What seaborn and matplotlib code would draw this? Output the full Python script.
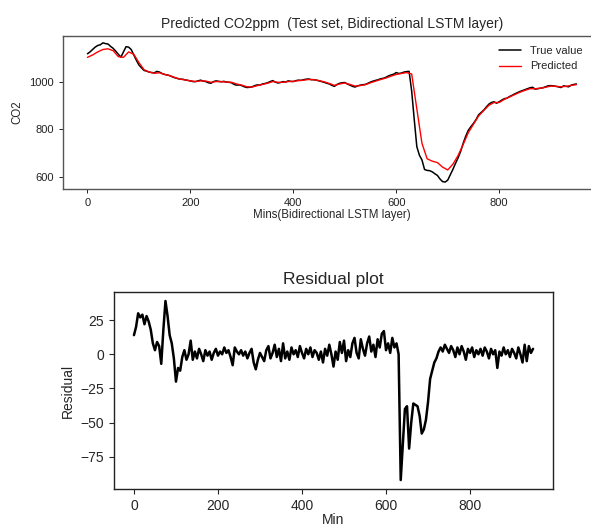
import numpy as np
import pandas as pd
import matplotlib
matplotlib.use("Agg")
import matplotlib.pyplot as plt
import seaborn as sns

# Minutes of the test set (5-minute and 10-minute readings)
minutes_5 = np.arange(0, 951, 5)
minutes_10 = np.arange(0, 951, 10)

# True CO2 (ppm), every 5 minutes
true_co2 = [
    1117, 1125, 1135, 1145, 1152, 1155, 1163, 1160, 1158, 1148,
    1140, 1128, 1115, 1103, 1125, 1147, 1145, 1135, 1112, 1090,
    1070, 1058, 1047, 1044, 1040, 1038, 1037, 1043, 1040, 1034,
    1030, 1028, 1025, 1020, 1016, 1013, 1010, 1010, 1007, 1005,
    1003, 1000, 1000, 1003, 1006, 1002, 1000, 995, 993, 1000,
    1003, 1001, 999, 1001, 998, 997, 995, 988, 985, 986,
    983, 978, 975, 976, 978, 983, 986, 985, 990, 992,
    995, 1000, 1004, 998, 994, 996, 1000, 998, 1003, 1001,
    1000, 1004, 1006, 1005, 1008, 1010, 1011, 1008, 1008, 1006,
    1003, 1000, 997, 993, 990, 984, 980, 988, 993, 995,
    996, 990, 985, 980, 977, 982, 985, 987, 988, 993,
    998, 1002, 1005, 1008, 1012, 1014, 1018, 1024, 1028, 1031,
    1038, 1034, 1036, 1040, 1042, 1043, 960, 840, 726, 690,
    670, 630, 626, 625, 620, 612, 605, 590, 579, 577,
    585, 607, 630, 655, 678, 705, 740, 770, 795, 810,
    824, 840, 860, 870, 880, 893, 905, 912, 915, 909,
    915, 922, 928, 930, 937, 942, 948, 953, 958, 962,
    966, 970, 974, 976, 968, 970, 972, 974, 978, 982,
    983, 982, 980, 978, 975, 982, 980, 978, 985, 988,
    990,
]

# Predicted CO2 (ppm), every 10 minutes
pred_co2 = [
    1102, 1112, 1125, 1135, 1138, 1130, 1105, 1102, 1125, 1115,
    1080, 1050, 1040, 1035, 1037, 1030, 1025, 1017, 1010, 1007,
    1003, 1000, 1003, 1002, 997, 1000, 1000, 998, 997, 990,
    985, 978, 977, 983, 988, 993, 1000, 997, 997, 1000,
    1001, 1004, 1006, 1009, 1008, 1004, 999, 992, 984, 990,
    994, 988, 981, 983, 987, 995, 1002, 1009, 1015, 1023,
    1030, 1034, 1038, 1032, 885, 740, 675, 665, 659, 640,
    628, 652, 688, 735, 785, 820, 855, 878, 900, 912,
    912, 925, 935, 945, 955, 963, 970, 970, 972, 976,
    981, 980, 978, 980, 984, 987,
]

# Residual (ppm), every 5 minutes
residual = [
    14, 20, 30, 27, 29, 22, 28, 24, 18, 8,
    3, 9, 6, -7, 18, 39, 28, 14, 8, -3,
    -20, -10, -12, -2, 3, -4, 0, 10, -4, 2,
    -3, 4, 0, -5, 3, -1, 2, -4, 1, 4,
    -1, 2, 0, 5, 1, 3, -2, -8, 5, 2,
    0, 3, -1, 2, -3, 1, 4, -6, -11, -4,
    1, -2, -5, 3, 6, -3, 1, 7, -2, 4,
    -5, 8, -3, 2, -4, 5, 0, 3, -2, 6,
    1, -3, 4, 0, 5, -2, 3, 1, -4, 2,
    -6, 4, -1, 7, 0, -9, 2, -4, 9, 1,
    10, -5, 3, -2, 8, 12, 1, -3, 11, 4,
    -1, 8, 13, 2, 7, -2, 11, 5, 15, 17,
    3, 8, 1, 12, 5, 8, 0, -92, -66, -40,
    -38, -69, -50, -36, -37, -38, -45, -58, -55, -48,
    -35, -18, -12, -6, -3, 2, 5, 2, 7, 4,
    1, 6, 3, -2, 5, 0, 6, 2, -4, 4,
    1, 5, -2, 3, 0, 4, -1, 5, 2, -3,
    4, 0, 3, -10, 2, -1, 5, 0, 3, -2,
    4, 1, -3, 5, 0, -6, 7, -5, 6, 1,
    4,
]


def main():
    sns.set_style("ticks")
    plt.rcParams['font.family'] = ['Liberation Sans', 'DejaVu Sans']

    df_true = pd.DataFrame({'Min': minutes_5, 'CO2': true_co2})
    df_pred = pd.DataFrame({'Min': minutes_10, 'CO2': pred_co2})
    df_res = pd.DataFrame({'Min': minutes_5, 'Residual': residual})

    fig = plt.figure(figsize=(5.91, 5.28), dpi=100)

    # Top panel: true vs predicted
    ax1 = fig.add_axes([0.1066, 0.642, 0.910, 0.290])
    sns.lineplot(data=df_true, x='Min', y='CO2', ax=ax1, color='black',
                 linewidth=1.1, label='True value')
    sns.lineplot(data=df_pred, x='Min', y='CO2', ax=ax1, color='red',
                 linewidth=1.0, label='Predicted')
    ax1.set_title('Predicted CO2ppm  (Test set, Bidirectional LSTM layer)', fontsize=10)
    ax1.set_xlabel('Mins(Bidirectional LSTM layer)', fontsize=8.3, labelpad=1)
    ax1.set_ylabel('CO2', fontsize=8.3)
    ax1.set_xticks([0, 200, 400, 600, 800])
    ax1.set_yticks([600, 800, 1000])
    ax1.tick_params(labelsize=8, length=3, width=0.7, colors='#222222')
    for s in ax1.spines.values():
        s.set_color('#555555')
        s.set_linewidth(1.0)
    ax1.legend(loc='upper right', frameon=False, fontsize=8,
               bbox_to_anchor=(0.985, 1.0))

    # Bottom panel: residuals
    ax2 = fig.add_axes([0.1929, 0.0739, 0.7428, 0.373])
    sns.lineplot(data=df_res, x='Min', y='Residual', ax=ax2, color='black',
                 linewidth=1.8)
    ax2.set_title('Residual plot', fontsize=12.5)
    ax2.set_xlabel('Min', fontsize=10, labelpad=0)
    ax2.set_ylabel('Residual', fontsize=10)
    ax2.set_xticks([0, 200, 400, 600, 800])
    ax2.set_yticks([25, 0, -25, -50, -75])
    ax2.tick_params(labelsize=10, length=3.5, width=0.8)
    for s in ax2.spines.values():
        s.set_color('#222222')
        s.set_linewidth(1.0)

    fig.savefig('out.png', dpi=100)
    plt.close(fig)


if __name__ == "__main__":
    main()
